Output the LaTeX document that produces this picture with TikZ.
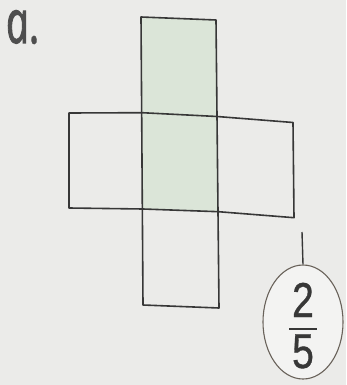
\documentclass[tikz,border=0pt]{standalone}
\usepackage{fontspec}
\usepackage{graphicx}
\usetikzlibrary{shapes.geometric}
\newfontfamily\lblfont[ItalicFeatures={FakeBold=2}]{Open Sans}
\newfontfamily\digfont[FakeBold=0.8]{Liberation Sans}
\definecolor{paper}{RGB}{235,235,233}
\definecolor{stripgreen}{RGB}{219,229,216}
\definecolor{ink}{RGB}{55,55,55}
\definecolor{labelgray}{RGB}{78,78,78}
\definecolor{ringcol}{RGB}{105,98,90}
\tikzset{
  netline/.style={draw=ink, line width=1.6pt, line join=round},
  stripfill/.style={fill=stripgreen},
  digit/.style={font=\digfont\fontsize{49}{49}\selectfont, text=ink, inner sep=0pt, anchor=base, xscale=0.8},
  ring/.style={draw=ringcol, line width=1.1pt, ellipse, fill=paper!60!white, minimum width=80pt, minimum height=114pt, inner sep=0pt},
  tick/.style={draw=ink, line width=1.4pt},
}
\begin{document}
\begin{tikzpicture}[x=1pt, y=-1pt]
  \fill[paper] (0,0) rectangle (346,385);
  \useasboundingbox (0,0) rectangle (346,385);

  % label
  \node[font=\lblfont\itshape\fontsize{60}{60}\selectfont, text=labelgray, anchor=base west, inner sep=0pt, xscale=0.68, xslant=-0.21] (lbl) at (8,43) {a.};

  % vertical strip corners
  \coordinate (vTL) at (141,17);
  \coordinate (vTR) at (216,20);
  \coordinate (vBR) at (219,308);
  \coordinate (vBL) at (143,305);
  % horizontal band corners
  \coordinate (hTL) at (69,113);
  \coordinate (hTM) at (142,112.7);
  \coordinate (hTN) at (217,116.5);
  \coordinate (hTR) at (293,122.5);
  \coordinate (hBL) at (69,208);
  \coordinate (hBM) at (143,209);
  \coordinate (hBN) at (218.5,211.7);
  \coordinate (hBR) at (294,217.7);

  % green shading of the strip above the lower face
  \fill[stripfill] (vTL) -- (vTR) -- (hBN) -- (hBM) -- cycle;

  % outlines
  \draw[netline] (hTL) -- (hTM) -- (hTN) -- (hTR) -- (hBR) -- (hBN) -- (hBM) -- (hBL) -- cycle;
  \draw[netline] (vTL) -- (vTR) -- (vBR) -- (vBL) -- cycle;

  % answer ring
  \node[ring] (ans) at (303,322) {};
  \coordinate (tickTop) at (302,232);
  \draw[tick] (tickTop) -- (ans.north);
  \node[digit] (num) at (303,317) {2};
  \node[digit] (den) at (303,368) {5};
  \draw[ink, line width=1.4pt] (289,329) -- (317,329);
\end{tikzpicture}
\end{document}
